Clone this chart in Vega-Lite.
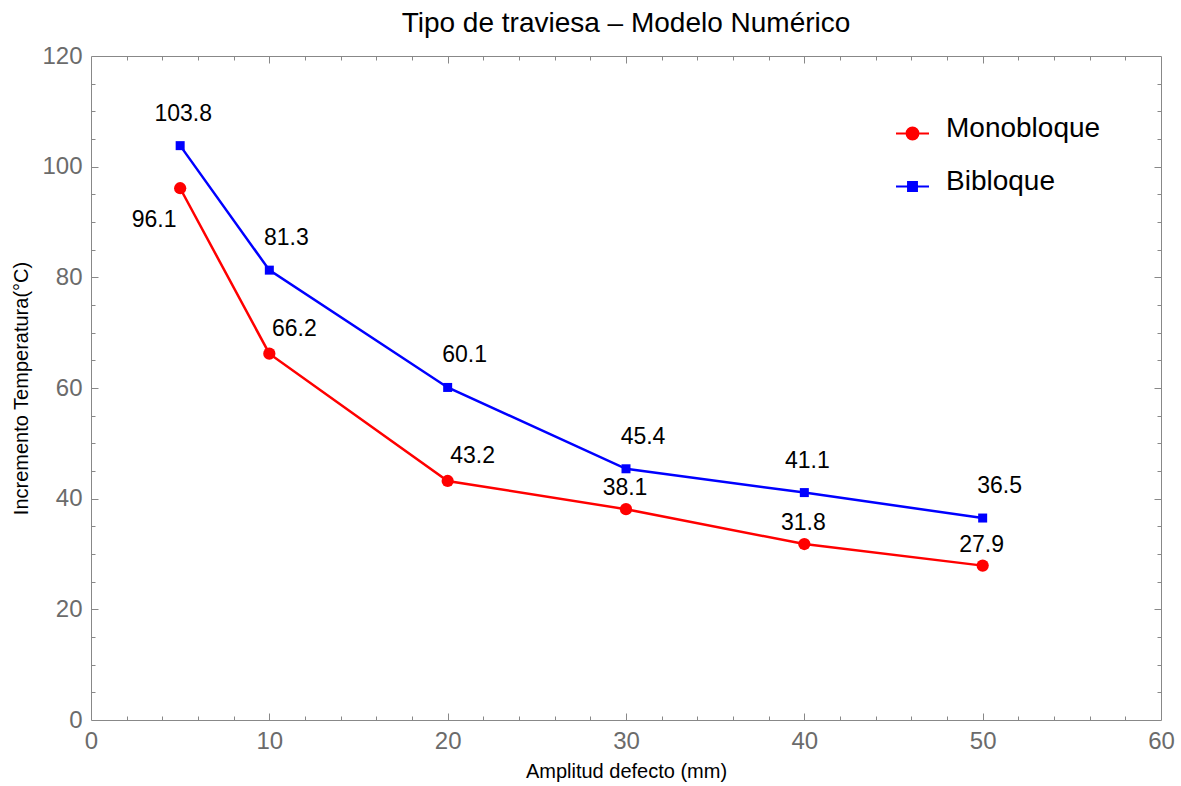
{
  "$schema": "https://vega.github.io/schema/vega-lite/v6.json",
  "width": 1070,
  "height": 664,
  "autosize": "none",
  "padding": {"left": 91, "top": 56, "right": 20, "bottom": 66},
  "background": "white",
  "config": {
    "view": {"stroke": null},
    "font": "Liberation Sans",
    "axis": {"grid": false, "domainColor": "#888888", "tickColor": "#888888", "tickWidth": 1, "domainWidth": 1, "labelFlush": false, "labelOverlap": false}
  },
  "title": {"text": "Tipo de traviesa – Modelo Numérico", "fontSize": 28, "fontWeight": "normal", "font": "Liberation Sans", "color": "black", "anchor": "middle", "offset": 6},
  "data": {"values": [
    {"series": "Monobloque", "amp": 5, "temp": 96.1},
    {"series": "Monobloque", "amp": 10, "temp": 66.2},
    {"series": "Monobloque", "amp": 20, "temp": 43.2},
    {"series": "Monobloque", "amp": 30, "temp": 38.1},
    {"series": "Monobloque", "amp": 40, "temp": 31.8},
    {"series": "Monobloque", "amp": 50, "temp": 27.9},
    {"series": "Bibloque", "amp": 5, "temp": 103.8},
    {"series": "Bibloque", "amp": 10, "temp": 81.3},
    {"series": "Bibloque", "amp": 20, "temp": 60.1},
    {"series": "Bibloque", "amp": 30, "temp": 45.4},
    {"series": "Bibloque", "amp": 40, "temp": 41.1},
    {"series": "Bibloque", "amp": 50, "temp": 36.5}
  ]},
  "resolve": {"axis": {"x": "independent", "y": "independent"}},
  "layer": [
    {
      "mark": {"type": "line", "strokeWidth": 2.5},
      "encoding": {
        "x": {"field": "amp", "type": "quantitative", "scale": {"domain": [0, 60], "nice": false, "zero": false},
          "axis": {"orient": "bottom", "values": [0, 10, 20, 30, 40, 50, 60], "ticks": false, "tickSize": 0, "domain": true, "labelFontSize": 24, "labelColor": "#6b6b6b", "labelFont": "Liberation Sans", "labelPadding": 9, "title": "Amplitud defecto (mm)", "titleFontSize": 20, "titleFontWeight": "normal", "titleColor": "black", "titleFont": "Liberation Sans", "titlePadding": 8}},
        "y": {"field": "temp", "type": "quantitative", "scale": {"domain": [0, 120], "nice": false, "zero": false},
          "axis": {"orient": "left", "values": [0, 20, 40, 60, 80, 100, 120], "ticks": false, "tickSize": 0, "domain": true, "labelFontSize": 24, "labelColor": "#6b6b6b", "labelFont": "Liberation Sans", "labelPadding": 9, "title": "Incremento Temperatura(°C)", "titleFontSize": 20, "titleFontWeight": "normal", "titleColor": "black", "titleFont": "Liberation Sans", "titlePadding": 10}},
        "color": {"field": "series", "type": "nominal", "scale": {"domain": ["Monobloque", "Bibloque"], "range": ["#ff0000", "#0000ff"]},
          "legend": {"orient": "none", "legendX": 804, "legendY": 60, "title": null, "labelFontSize": 28, "labelFont": "Liberation Sans", "labelColor": "black", "symbolSize": 1089, "labelOffset": 16, "rowPadding": 23, "padding": 0,
            "encode": {
              "symbols": {"update": {
                "shape": {"signal": "datum.value === 'Monobloque' ? 'M-1,0H1M-0.36,0A0.36,0.36,0,1,1,0.36,0A0.36,0.36,0,1,1,-0.36,0Z' : 'M-1,0H1M-0.27,-0.27H0.27V0.27H-0.27Z'"},
                "fill": {"scale": "color", "field": "value"},
                "stroke": {"scale": "color", "field": "value"},
                "strokeWidth": {"value": 2},
                "size": {"value": 1089},
                "opacity": {"value": 1}
              }},
              "labels": {"update": {"dy": {"value": -5}}}
            }}}
      }
    },
    {
      "transform": [{"filter": "datum.series === 'Monobloque'"}],
      "mark": {"type": "point", "shape": "circle", "filled": true, "size": 150, "color": "#ff0000", "opacity": 1},
      "encoding": {
        "x": {"field": "amp", "type": "quantitative", "axis": {"orient": "bottom", "values": [10, 20, 30, 40, 50], "tickSize": -7, "labels": false, "domain": false, "title": null}},
        "y": {"field": "temp", "type": "quantitative", "axis": {"orient": "left", "values": [20, 40, 60, 80, 100], "tickSize": -7, "labels": false, "domain": false, "title": null}}
      }
    },
    {
      "transform": [{"filter": "datum.series === 'Bibloque'"}],
      "mark": {"type": "point", "shape": "square", "filled": true, "size": 81, "color": "#0000ff", "opacity": 1},
      "encoding": {
        "x": {"field": "amp", "type": "quantitative", "axis": {"orient": "bottom", "values": [2, 4, 6, 8, 12, 14, 16, 18, 22, 24, 26, 28, 32, 34, 36, 38, 42, 44, 46, 48, 52, 54, 56, 58], "tickSize": -4, "labels": false, "domain": false, "title": null}},
        "y": {"field": "temp", "type": "quantitative", "axis": {"orient": "left", "values": [5, 10, 15, 25, 30, 35, 45, 50, 55, 65, 70, 75, 85, 90, 95, 105, 110, 115], "tickSize": -4, "labels": false, "domain": false, "title": null}}
      }
    },
    {
      "transform": [{"filter": "datum.series === 'Bibloque' && (datum.amp === 5 || datum.amp === 40)"}],
      "mark": {"type": "text", "fontSize": 23, "font": "Liberation Sans", "color": "black", "baseline": "alphabetic", "align": "center", "dx": 3, "dy": -25},
      "encoding": {
        "x": {"field": "amp", "type": "quantitative", "axis": {"orient": "top", "values": [10, 20, 30, 40, 50], "tickSize": -7, "labels": false, "domain": true, "title": null}},
        "y": {"field": "temp", "type": "quantitative", "axis": {"orient": "right", "values": [20, 40, 60, 80, 100], "tickSize": -7, "labels": false, "domain": true, "title": null}},
        "text": {"field": "temp", "type": "quantitative", "format": ".1f"}
      }
    },
    {
      "transform": [{"filter": "datum.series === 'Bibloque' && datum.amp !== 5 && datum.amp !== 40"}],
      "mark": {"type": "text", "fontSize": 23, "font": "Liberation Sans", "color": "black", "baseline": "alphabetic", "align": "center", "dx": 17, "dy": -25},
      "encoding": {
        "x": {"field": "amp", "type": "quantitative", "axis": {"orient": "top", "values": [2, 4, 6, 8, 12, 14, 16, 18, 22, 24, 26, 28, 32, 34, 36, 38, 42, 44, 46, 48, 52, 54, 56, 58], "tickSize": -4, "labels": false, "domain": false, "title": null}},
        "y": {"field": "temp", "type": "quantitative", "axis": {"orient": "right", "values": [5, 10, 15, 25, 30, 35, 45, 50, 55, 65, 70, 75, 85, 90, 95, 105, 110, 115], "tickSize": -4, "labels": false, "domain": false, "title": null}},
        "text": {"field": "temp", "type": "quantitative", "format": ".1f"}
      }
    },
    {
      "transform": [{"filter": "datum.series === 'Monobloque' && datum.amp >= 30"}],
      "mark": {"type": "text", "fontSize": 23, "font": "Liberation Sans", "color": "black", "baseline": "alphabetic", "align": "center", "dx": -1, "dy": -14},
      "encoding": {
        "x": {"field": "amp", "type": "quantitative", "axis": null},
        "y": {"field": "temp", "type": "quantitative", "axis": null},
        "text": {"field": "temp", "type": "quantitative", "format": ".1f"}
      }
    },
    {
      "transform": [{"filter": "datum.series === 'Monobloque' && (datum.amp === 10 || datum.amp === 20)"}],
      "mark": {"type": "text", "fontSize": 23, "font": "Liberation Sans", "color": "black", "baseline": "alphabetic", "align": "center", "dx": 25, "dy": -18},
      "encoding": {
        "x": {"field": "amp", "type": "quantitative", "axis": null},
        "y": {"field": "temp", "type": "quantitative", "axis": null},
        "text": {"field": "temp", "type": "quantitative", "format": ".1f"}
      }
    },
    {
      "transform": [{"filter": "datum.series === 'Monobloque' && datum.amp === 5"}],
      "mark": {"type": "text", "fontSize": 23, "font": "Liberation Sans", "color": "black", "baseline": "alphabetic", "align": "center", "dx": -26, "dy": 39},
      "encoding": {
        "x": {"field": "amp", "type": "quantitative", "axis": null},
        "y": {"field": "temp", "type": "quantitative", "axis": null},
        "text": {"field": "temp", "type": "quantitative", "format": ".1f"}
      }
    }
  ]
}
